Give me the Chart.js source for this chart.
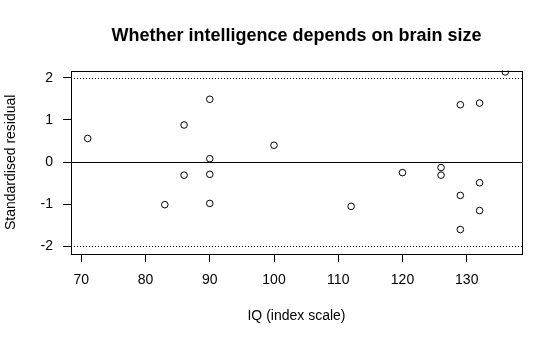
<!DOCTYPE html>
<html>
<head>
  <title>Whether intelligence depends on brain size</title>
  <style>
    body { margin: 0; background: #fff; }
    #wrap { width: 560px; height: 343px; }
  </style>
</head>
<body>
  <div id="wrap"><canvas id="chart"></canvas></div>

  <script src="https://cdn.jsdelivr.net/npm/chart.js"></script>
  <script>
    // residuals
    const iq = [71, 86, 90, 100, 90, 86, 90, 83, 90, 136, 129, 132, 126, 126, 120, 132, 129, 112, 132, 129];
    const residual = [0.56, 0.88, 1.49, 0.40, 0.08, -0.31, -0.29, -1.01, -0.98, 2.14, 1.36, 1.40, -0.13, -0.31, -0.25, -0.49, -0.79, -1.05, -1.15, -1.60];
    const xTicks = [70, 80, 90, 100, 110, 120, 130];
    const yTicks = [-2, -1, 0, 1, 2];
    const refLines = [-2, 0, 2];

    const points = iq.map((v, i) => ({ x: v, y: residual[i] }));

    // box round the plot + reference lines
    const framePlugin = {
      id: 'frame',
      beforeDatasetsDraw(chart) {
        const { ctx, chartArea: a, scales } = chart;
        ctx.save();
        ctx.strokeStyle = '#000';
        ctx.lineWidth = 1;
        refLines.forEach(v => {
          const y = Math.round(scales.y.getPixelForValue(v)) + 0.5;
          ctx.setLineDash(v === 0 ? [] : [1, 2]);
          ctx.beginPath();
          ctx.moveTo(a.left, y);
          ctx.lineTo(a.right, y);
          ctx.stroke();
        });
        ctx.setLineDash([]);
        ctx.strokeRect(Math.round(a.left) + 0.5, Math.round(a.top) + 0.5,
          Math.round(a.right - a.left), Math.round(a.bottom - a.top));
        ctx.restore();
      }
    };

    const tickFont = { family: 'Liberation Sans, Arial, sans-serif', size: 14 };

    new Chart(document.getElementById('chart'), {
      type: 'scatter',
      data: {
        datasets: [{
          data: points,
          pointStyle: 'circle',
          pointRadius: 3.3,
          pointHoverRadius: 3.3,
          borderColor: '#000',
          borderWidth: 1,
          backgroundColor: 'rgba(0,0,0,0)',
          clip: 0
        }]
      },
      options: {
        responsive: true,
        maintainAspectRatio: false,
        animation: false,
        events: [],
        layout: { padding: { left: 0, right: 38, top: 0, bottom: 0 } },
        plugins: {
          legend: { display: false },
          tooltip: { enabled: false },
          title: {
            display: true,
            fullSize: false,
            text: 'Whether intelligence depends on brain size',
            color: '#000',
            font: { family: 'Liberation Sans, Arial, sans-serif', size: 18, weight: 'bold', lineHeight: 1.2 },
            padding: { top: 25, bottom: 24 }
          }
        },
        scales: {
          x: {
            type: 'linear',
            min: 68.4,
            max: 138.6,
            afterBuildTicks: s => { s.ticks = xTicks.map(v => ({ value: v })); },
            afterFit: s => { s.height = 89; },
            grid: { display: true, drawOnChartArea: false, drawTicks: true, tickLength: 8, color: '#000' },
            border: { display: false },
            ticks: { color: '#000', font: tickFont, padding: 10, maxRotation: 0, autoSkip: false },
            title: {
              display: true,
              text: 'IQ (index scale)',
              color: '#000',
              font: tickFont,
              padding: { top: 0, bottom: 18 }
            }
          },
          y: {
            type: 'linear',
            min: -2.18,
            max: 2.17,
            afterBuildTicks: s => { s.ticks = yTicks.map(v => ({ value: v })); },
            afterFit: s => { s.width = 71; },
            grid: { display: true, drawOnChartArea: false, drawTicks: true, tickLength: 8, color: '#000' },
            border: { display: false },
            ticks: { color: '#000', font: tickFont, padding: 10, autoSkip: false },
            title: {
              display: true,
              text: 'Standardised residual',
              color: '#000',
              font: tickFont,
              padding: { top: 3, bottom: 0 }
            }
          }
        }
      },
      plugins: [framePlugin]
    });
  </script>
</body>
</html>
